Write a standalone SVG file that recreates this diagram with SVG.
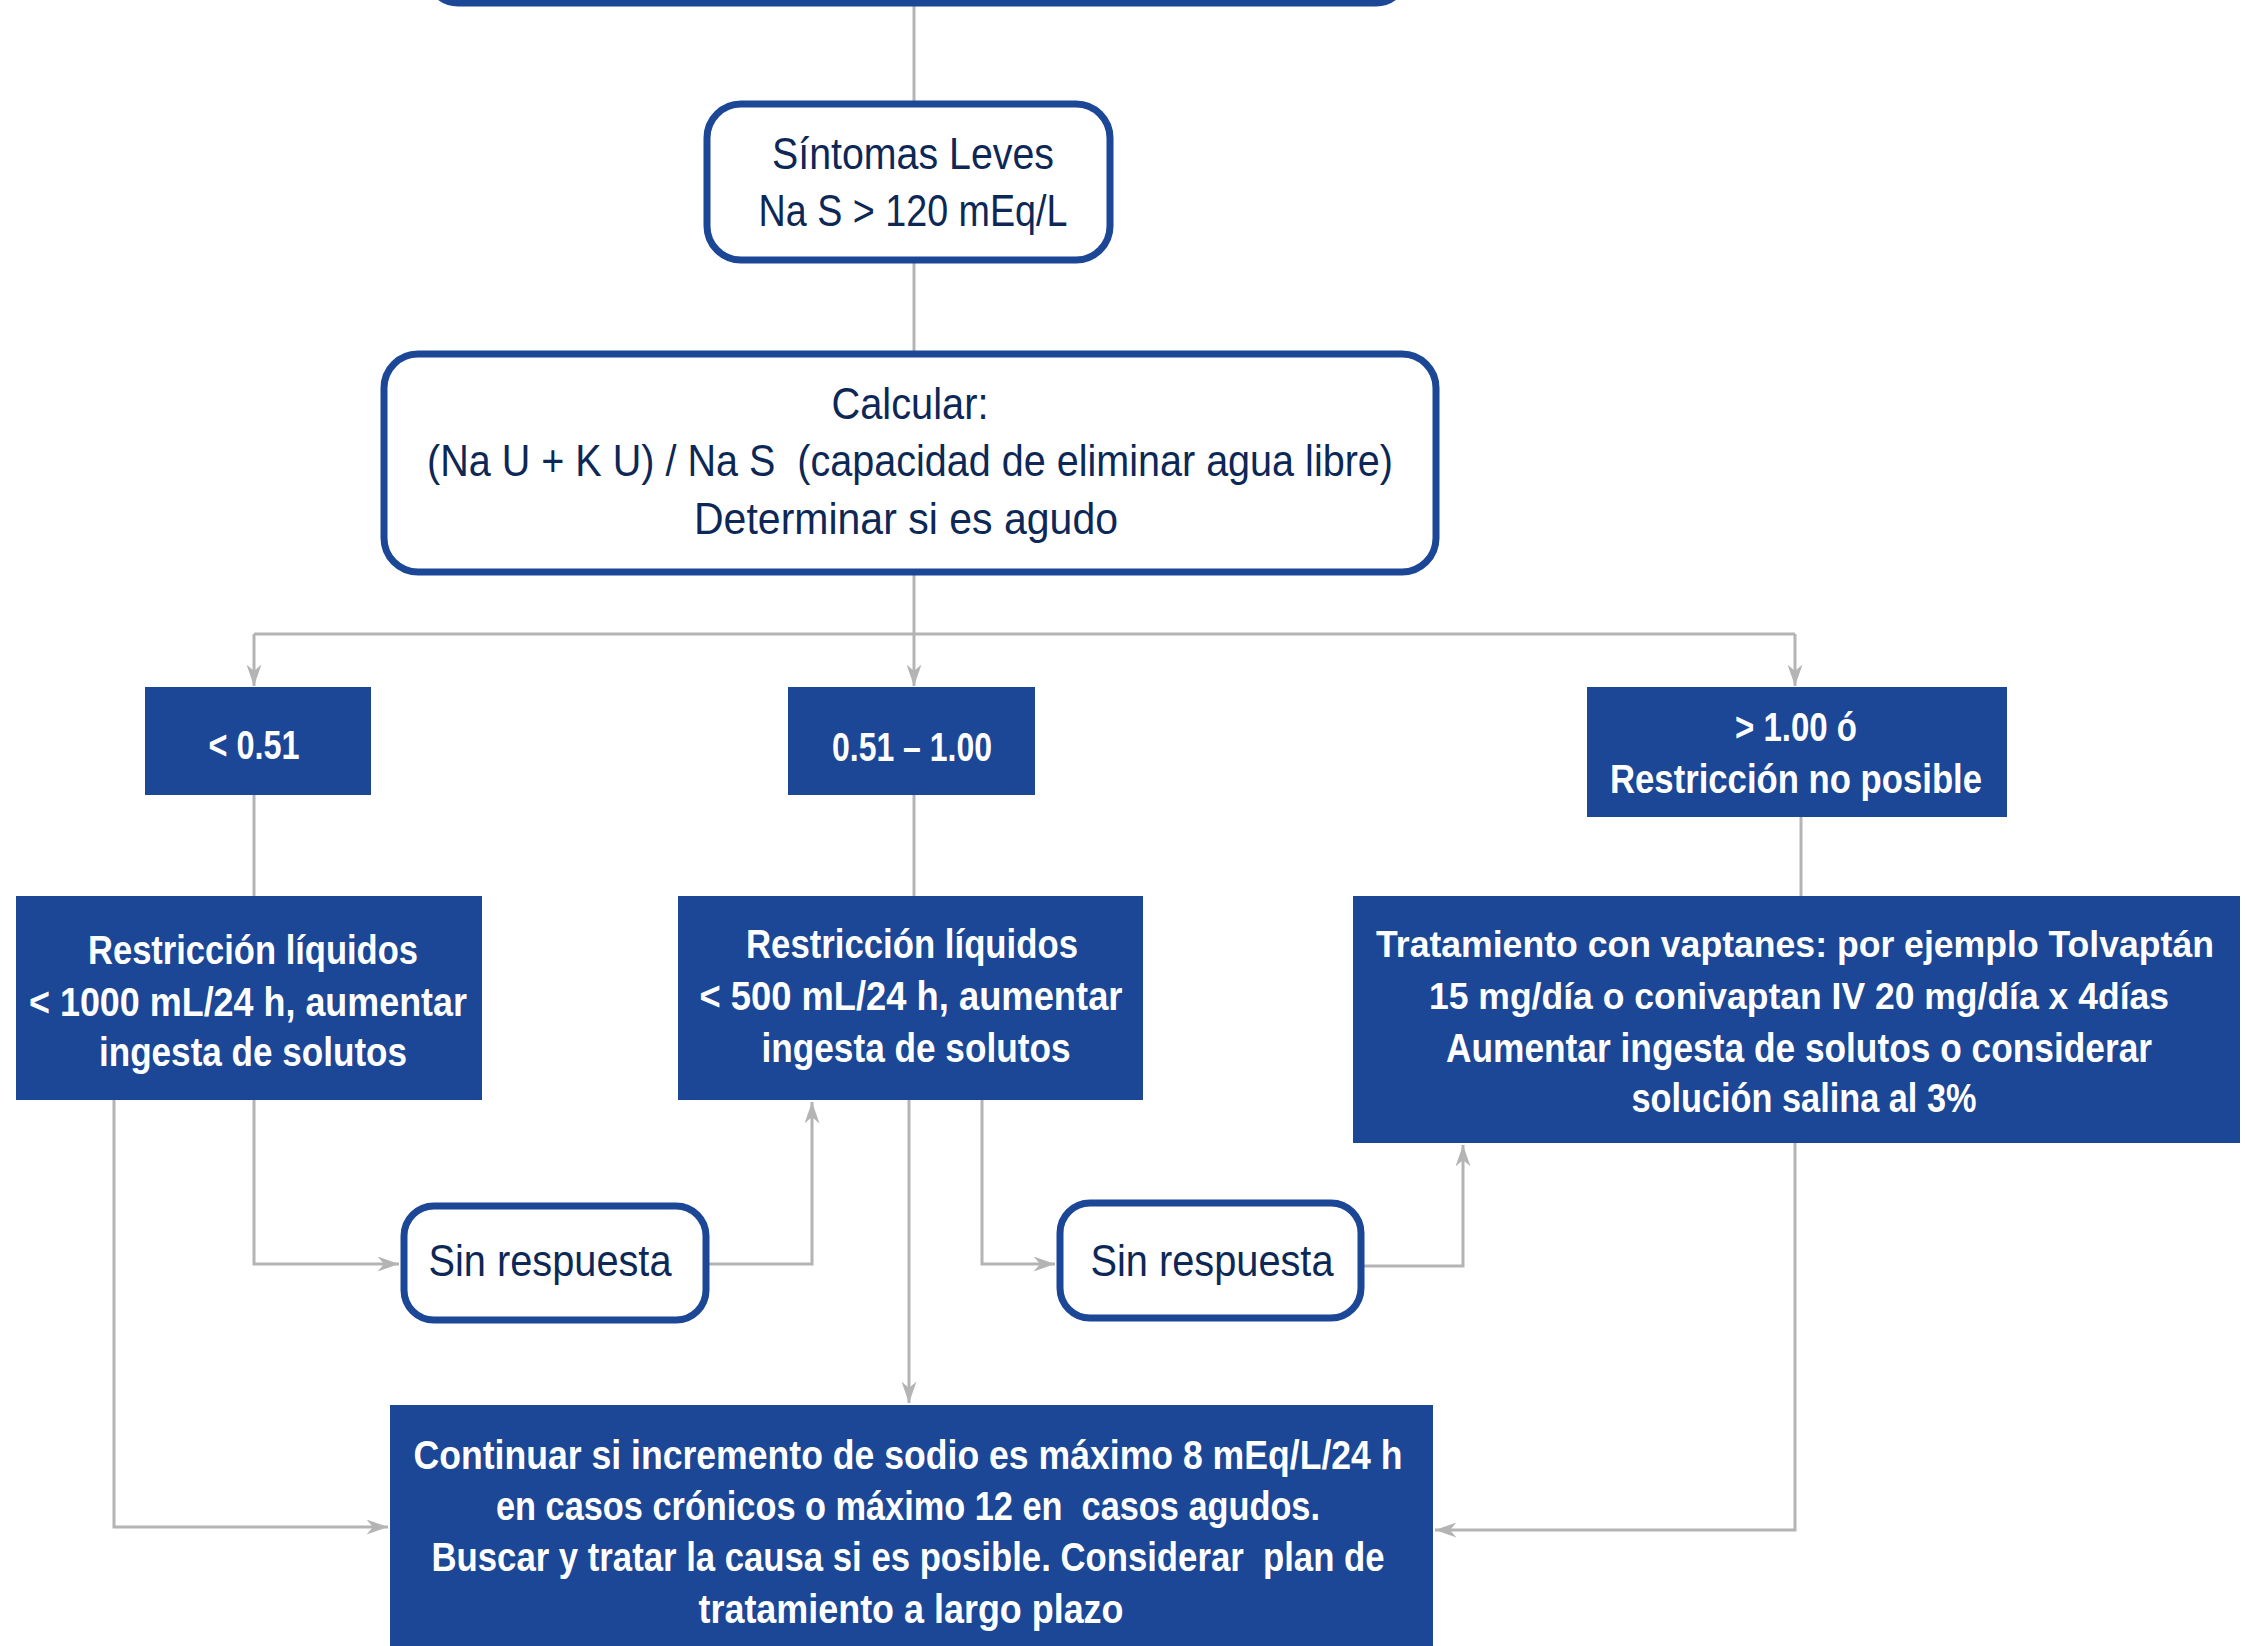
<svg xmlns="http://www.w3.org/2000/svg" width="2254" height="1646" viewBox="0 0 2254 1646">
<defs>
<style>
.ob{fill:#fff;stroke:#1b4796;stroke-width:7}
.fb{fill:#1b4796}
.tr{font-family:"Liberation Sans",Arial,sans-serif;font-size:44px;fill:#0d2856;text-anchor:middle}
.tb{font-family:"Liberation Sans",Arial,sans-serif;font-size:40px;font-weight:bold;fill:#fff;text-anchor:middle}
.sm{font-size:37px}
.c{fill:none;stroke:#b4b4b4;stroke-width:3}
</style>
<marker id="ah" viewBox="0 0 20 14" refX="20" refY="7" markerWidth="22" markerHeight="15" markerUnits="userSpaceOnUse" orient="auto">
<path d="M0,0 L20,7 L0,14 L6,7 z" fill="#b4b4b4"/>
</marker>
</defs>
<rect width="2254" height="1646" fill="#fff"/>
<g id="connectors">
<path class="c" d="M914,5 V101"/>
<path class="c" d="M914,263 V351"/>
<path class="c" d="M914,575 V634"/>
<path class="c" d="M254,634 H1795"/>
<path class="c" d="M254,634 V686" marker-end="url(#ah)"/>
<path class="c" d="M914,634 V686" marker-end="url(#ah)"/>
<path class="c" d="M1795,634 V686" marker-end="url(#ah)"/>
<path class="c" d="M254,795 V896"/>
<path class="c" d="M914,795 V896"/>
<path class="c" d="M1801,817 V896"/>
<path class="c" d="M254,1100 V1264 H399" marker-end="url(#ah)"/>
<path class="c" d="M709,1264 H812 V1102" marker-end="url(#ah)"/>
<path class="c" d="M114,1100 V1527 H388" marker-end="url(#ah)"/>
<path class="c" d="M909,1100 V1403" marker-end="url(#ah)"/>
<path class="c" d="M982,1100 V1264 H1055" marker-end="url(#ah)"/>
<path class="c" d="M1364,1266 H1463 V1145" marker-end="url(#ah)"/>
<path class="c" d="M1795,1143 V1530 H1435" marker-end="url(#ah)"/>
</g>
<g id="top">
<rect class="ob" x="428" y="-80" width="978" height="83" rx="30"/>
</g>
<g id="sintomas">
<rect class="ob" x="707" y="104" width="403" height="156" rx="34"/>
<text class="tr" x="913" y="169" textLength="282" lengthAdjust="spacingAndGlyphs">Síntomas Leves</text>
<text class="tr" x="913" y="226" textLength="309" lengthAdjust="spacingAndGlyphs">Na S &gt; 120 mEq/L</text>
</g>
<g id="calcular">
<rect class="ob" x="384" y="354" width="1052" height="218" rx="34"/>
<text class="tr" x="910" y="419" textLength="157" lengthAdjust="spacingAndGlyphs">Calcular:</text>
<text class="tr" x="910" y="476" textLength="966" lengthAdjust="spacingAndGlyphs" xml:space="preserve">(Na U + K U) / Na S  (capacidad de eliminar agua libre)</text>
<text class="tr" x="906" y="534" textLength="424" lengthAdjust="spacingAndGlyphs">Determinar si es agudo</text>
</g>
<g id="r1">
<rect class="fb" x="145" y="687" width="226" height="108"/>
<text class="tb" x="254" y="759" textLength="91" lengthAdjust="spacingAndGlyphs">&lt; 0.51</text>
</g>
<g id="r2">
<rect class="fb" x="788" y="687" width="247" height="108"/>
<text class="tb" x="912" y="761" textLength="160" lengthAdjust="spacingAndGlyphs">0.51 – 1.00</text>
</g>
<g id="r3">
<rect class="fb" x="1587" y="687" width="420" height="130"/>
<text class="tb" x="1796" y="741" textLength="122" lengthAdjust="spacingAndGlyphs">&gt; 1.00 ó</text>
<text class="tb" x="1796" y="793" textLength="372" lengthAdjust="spacingAndGlyphs">Restricción no posible</text>
</g>
<g id="t1">
<rect class="fb" x="16" y="896" width="466" height="204"/>
<text class="tb" x="253" y="964" textLength="330" lengthAdjust="spacingAndGlyphs">Restricción líquidos</text>
<text class="tb" x="248" y="1016" textLength="438" lengthAdjust="spacingAndGlyphs">&lt; 1000 mL/24 h, aumentar</text>
<text class="tb" x="253" y="1066" textLength="308" lengthAdjust="spacingAndGlyphs">ingesta de solutos</text>
</g>
<g id="t2">
<rect class="fb" x="678" y="896" width="465" height="204"/>
<text class="tb" x="912" y="958" textLength="332" lengthAdjust="spacingAndGlyphs">Restricción líquidos</text>
<text class="tb" x="911" y="1010" textLength="423" lengthAdjust="spacingAndGlyphs">&lt; 500 mL/24 h, aumentar</text>
<text class="tb" x="916" y="1062" textLength="309" lengthAdjust="spacingAndGlyphs">ingesta de solutos</text>
</g>
<g id="t3">
<rect class="fb" x="1353" y="896" width="887" height="247"/>
<text class="tb sm" x="1795" y="957" textLength="838" lengthAdjust="spacingAndGlyphs">Tratamiento con vaptanes: por ejemplo Tolvaptán</text>
<text class="tb sm" x="1799" y="1009" textLength="740" lengthAdjust="spacingAndGlyphs">15 mg/día o conivaptan IV 20 mg/día x 4días</text>
<text class="tb" x="1799" y="1062" textLength="706" lengthAdjust="spacingAndGlyphs">Aumentar ingesta de solutos o considerar</text>
<text class="tb" x="1804" y="1112" textLength="345" lengthAdjust="spacingAndGlyphs">solución salina al 3%</text>
</g>
<g id="s1">
<rect class="ob" x="404" y="1206" width="302" height="114" rx="30"/>
<text class="tr" x="550" y="1276" textLength="243" lengthAdjust="spacingAndGlyphs">Sin respuesta</text>
</g>
<g id="s2">
<rect class="ob" x="1060" y="1203" width="301" height="115" rx="30"/>
<text class="tr" x="1212" y="1276" textLength="243" lengthAdjust="spacingAndGlyphs">Sin respuesta</text>
</g>
<g id="bottom">
<rect class="fb" x="390" y="1405" width="1043" height="260"/>
<text class="tb" x="908" y="1469" textLength="989" lengthAdjust="spacingAndGlyphs">Continuar si incremento de sodio es máximo 8 mEq/L/24 h</text>
<text class="tb" x="908" y="1520" textLength="824" lengthAdjust="spacingAndGlyphs" xml:space="preserve">en casos crónicos o máximo 12 en  casos agudos.</text>
<text class="tb" x="908" y="1571" textLength="953" lengthAdjust="spacingAndGlyphs" xml:space="preserve">Buscar y tratar la causa si es posible. Considerar  plan de</text>
<text class="tb" x="911" y="1623" textLength="425" lengthAdjust="spacingAndGlyphs">tratamiento a largo plazo</text>
</g>
</svg>
